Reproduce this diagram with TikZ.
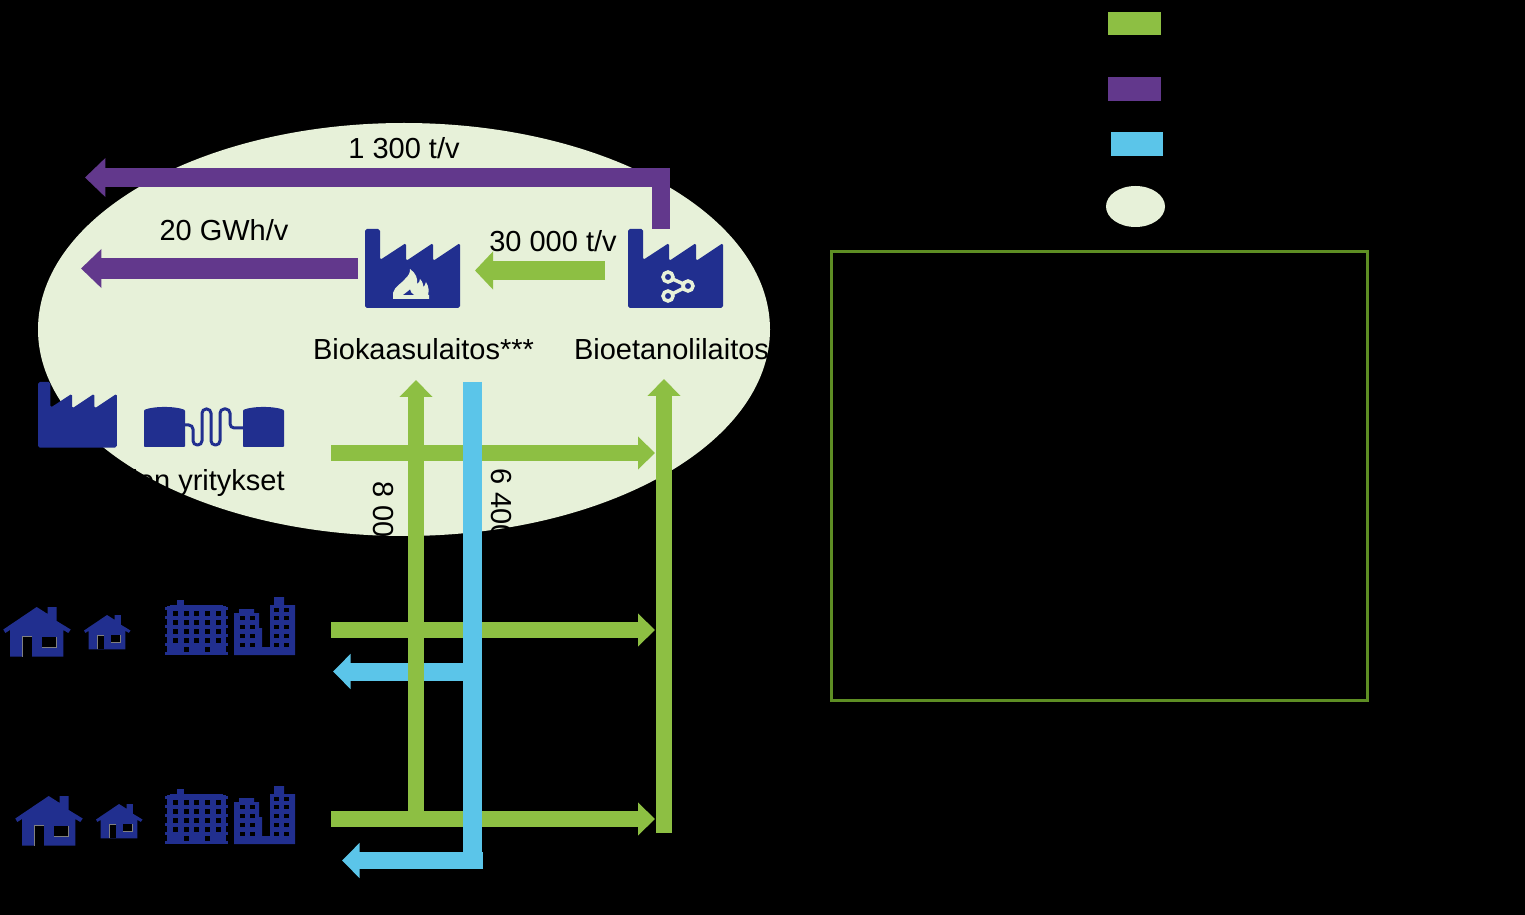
\documentclass[tikz,border=0pt]{standalone}
\usepackage{fontspec}
\setmainfont{Liberation Sans}
\usepackage{tikz}
\usetikzlibrary{arrows.meta}

\definecolor{flowgreen}{HTML}{8DBF43}
\definecolor{flowpurple}{HTML}{62388C}
\definecolor{flowblue}{HTML}{5BC5E9}
\definecolor{palegreen}{HTML}{E7F1D9}
\definecolor{iconnavy}{HTML}{212F8F}
\definecolor{framegreen}{HTML}{5E8E24}

\tikzset{
  greentip/.style={-{Triangle[length=.34cm,width=.64cm]}},
  purpletip/.style={-{Triangle[length=.41cm,width=.76cm]}},
  bluetip/.style={-{Triangle[length=.35cm,width=.68cm]}},
  factory/.pic={
    \fill[iconnavy, rounded corners=1pt] (0,0)--(15,0)--(15,31)--(41,14)--(41,32)--(68,14)--(68,32)--(95,14)--(95,79)--(0,79)--cycle;
  },
  flame/.pic={
    \fill[palegreen] (28,70)--(28,64) .. controls (30,57) and (36,55) .. (40,50) .. controls (44,46) and (45,44) .. (45,40)
      .. controls (51,44) and (53,50) .. (52,55) .. controls (54,54) and (55,52) .. (55,50) .. controls (58,53) and (58,56) .. (58.5,58)
      .. controls (59.5,57) and (60,56) .. (61,53) .. controls (64,58) and (64,62) .. (63,66)--(64,66)--(64,70)--cycle;
    \fill[iconnavy] (38,66) .. controls (40,64) and (43,63) .. (45,60.5) .. controls (45,63) and (47,64.5) .. (49,66)--cycle;
  },
  hub/.pic={
    \draw[palegreen, line width=.07cm] (40,48)--(60,57)--(40,67);
    \draw[palegreen, fill=iconnavy, line width=.07cm] (40,48) circle [radius=5];
    \draw[palegreen, fill=iconnavy, line width=.07cm] (60,57) circle [radius=5];
    \draw[palegreen, fill=iconnavy, line width=.07cm] (40,67) circle [radius=5];
  },
  tank/.pic={
    \fill[iconnavy, rounded corners=.5pt] (0,41)--(0,4) .. controls (10,0) and (31,0) .. (41,4)--(41,41)--cycle;
  },
  house/.pic={
    \fill[iconnavy] (33.4,0)--(44.4,7)--(44.4,0)--(53.4,0)--(53.4,14)--(67.4,22.5)--(65,26)--(60,23)--(60,49.7)--(6.7,49.7)--(6.7,23)--(2,26)--(0,22.5)--cycle;
    \fill[black] (19,29) rectangle (29,49.7);
    \fill[black] (39,29.7) rectangle (52.4,39.7);
    \draw[gray, line width=.2pt] (19,49.7)--(19,29)--(29,29);
    \draw[gray, line width=.2pt] (39,39.7)--(52.4,39.7)--(52.4,29.7);
  },
  blockflats/.pic={
    \fill[iconnavy] (12,0) rectangle (19,6);
    \fill[iconnavy] (5,5) rectangle (58,7);
    \fill[iconnavy] (2,6) rectangle (61,55);
    \foreach \y in {7,16,25,34,43,52}
      \fill[iconnavy] (0,\y) rectangle (63,\y+3);
    \foreach \x in {7.5,18.5,28.5,39.5,50.5}
      \foreach \y in {10.5,19.5,28.5,37.5}
        \fill[black] (\x,\y) rectangle (\x+5,\y+5.5);
    \foreach \x in {18.5,39.5}
      \fill[black] (\x,47) rectangle (\x+5,52);
  },
  towers/.pic={
    \fill[iconnavy] (0,58)--(0,16)--(5,16)--(5,12)--(20,12)--(20,16)--(25,16)--(25,31)--(28,31)--(28,50)--(36,50)--(36,8)--(40,8)--(40,0)--(50,0)--(50,8)--(61,8)--(61,58)--cycle;
    \foreach \x in {6,16}
      \foreach \y in {19,28,37,46}
        \fill[black] (\x,\y) rectangle (\x+5,\y+4);
    \foreach \x in {40,50}
      \foreach \y in {11,19,28,37,46}
        \fill[black] (\x,\y) rectangle (\x+5,\y+4);
  }
}

\begin{document}
\begin{tikzpicture}[x=.02cm, y=-.02cm, every node/.style={inner sep=0pt, font=\fontsize{16.5}{20}\selectfont}]
  \useasboundingbox (0,0) rectangle (1525,915);
  \fill[black] (0,0) rectangle (1525,915);
  \fill[palegreen] (404,329.5) ellipse [x radius=366, y radius=206.5];

  % legend and empty frame
  \fill[flowgreen] (1108,12) rectangle (1161,35);
  \fill[flowpurple] (1108,77) rectangle (1161,101);
  \fill[flowblue] (1111,132) rectangle (1163,156);
  \fill[palegreen] (1135.5,206.5) ellipse [x radius=29.5, y radius=20.5];
  \draw[framegreen, line width=.06cm] (831,252) rectangle (1367,700);

  \node (topflow) at (404,148) {1 300 t/v};
  \node (gasflow) at (224,230) {20 GWh/v};
  \node (massflow) at (553,241.5) {30 000 t/v};
  \node (biogas) at (423.5,349) {Biokaasulaitos***};
  \node (bioethanol) at (671.5,349) {Bioetanolilaitos};
  \node[anchor=east] (firms) at (285,483) {den yritykset};
  \node[anchor=west, rotate=-90] (leftflow) at (383.5,481) {8 00};
  \node[anchor=west, rotate=-90] (rightflow) at (501.5,468) {6 400};

  \coordinate (ethanolTop) at (661,229);
  \coordinate (purpleBend) at (661,177.5);
  \coordinate (purpleEnd) at (85,177.5);
  \coordinate (gasStart) at (358,268.5);
  \coordinate (gasEnd) at (81,268.5);
  \coordinate (massStart) at (605,270.5);
  \coordinate (massEnd) at (475,270.5);
  \foreach \n/\y in {a/453,b/630,c/819} {
    \coordinate (rowStart\n) at (331,\y);
    \coordinate (rowEnd\n) at (655,\y);
  }
  \coordinate (blueTop) at (472.5,382);
  \coordinate (blueBottom) at (472.5,869);
  \coordinate (blueMidStart) at (465,671.5);
  \coordinate (blueMidEnd) at (333,671.5);
  \coordinate (blueLowStart) at (483,860.5);
  \coordinate (blueLowEnd) at (342,860.5);
  \coordinate (riseLeftStart) at (416,815);
  \coordinate (riseLeftEnd) at (416,380);
  \coordinate (riseRightStart) at (664,833);
  \coordinate (riseRightEnd) at (664,379);

  \draw[flowpurple, line width=.37cm, purpletip] (ethanolTop)--(purpleBend)--(purpleEnd);
  \draw[flowpurple, line width=.42cm, purpletip] (gasStart)--(gasEnd);
  \draw[flowgreen, line width=.38cm, -{Triangle[length=.36cm,width=.74cm]}] (massStart)--(massEnd);
  \foreach \n in {a,b,c}
    \draw[flowgreen, line width=.32cm, greentip] (rowStart\n)--(rowEnd\n);
  \draw[flowblue, line width=.36cm, bluetip] (blueMidStart)--(blueMidEnd);
  \draw[flowblue, line width=.34cm, bluetip] (blueLowStart)--(blueLowEnd);
  \draw[flowblue, line width=.38cm] (blueTop)--(blueBottom);
  \draw[flowgreen, line width=.32cm, greentip] (riseLeftStart)--(riseLeftEnd);
  \draw[flowgreen, line width=.32cm, greentip] (riseRightStart)--(riseRightEnd);

  % icons
  \pic at (365,229) {factory};
  \pic at (365,229) {flame};
  \pic at (628,229) {factory};
  \pic at (628,229) {hub};
  \pic[scale=.83] at (38,382) {factory};
  \pic at (144,406) {tank};
  \pic at (243,406) {tank};
  \draw[iconnavy, line width=.06cm, rounded corners=.085cm] (185,425)--(193,425)--(193,445)--(202,445)--(202,409)--(211,409)--(211,445)--(220,445)--(220,409)--(230,409)--(230,428)--(243,428);
  \pic at (3.3,607) {house};
  \pic[scale=.69] at (84,615) {house};
  \pic at (165,600) {blockflats};
  \pic at (234,597) {towers};
  \pic at (15.3,796) {house};
  \pic[scale=.69] at (96,804) {house};
  \pic at (165,789) {blockflats};
  \pic at (234,786) {towers};
\end{tikzpicture}
\end{document}
